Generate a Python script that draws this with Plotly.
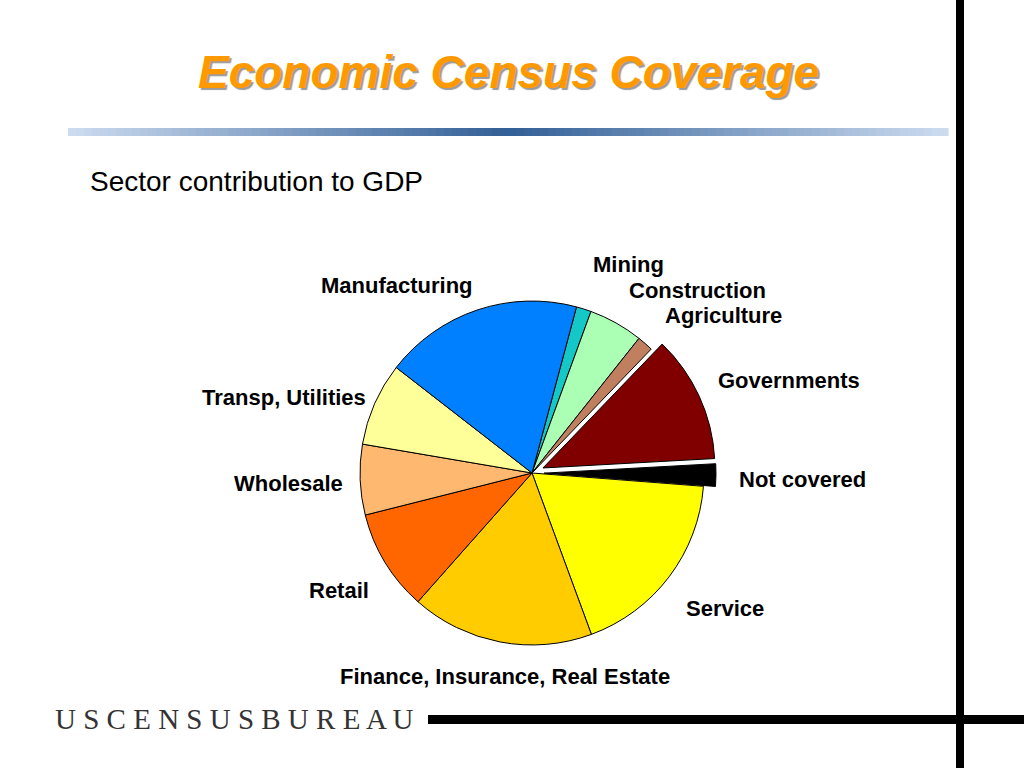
import plotly.graph_objects as go

# sector shares of GDP (percent), clockwise starting at Mining
sectors = ["Mining", "Construction", "Agriculture", "Governments", "Not covered",
           "Service", "Finance, Insurance, Real Estate", "Retail", "Wholesale",
           "Transp, Utilities", "Manufacturing"]
shares = [1.4, 5.1, 1.5, 11.9, 2.1, 18.1, 17.1, 9.5, 6.6, 7.8, 18.6]
colors = ["#14C8C8", "#AAFFB4", "#C08060", "#800000", "#000000",
          "#FFFF00", "#FFCC00", "#FF6600", "#FFB870", "#FFFF99", "#0080FF"]
pulls = [0, 0, 0, 0.07, 0.07, 0, 0, 0, 0, 0, 0]

W, H = 1024, 768

# label centres in pixels
label_pos = {
    "Mining": (628, 264),
    "Construction": (697, 290),
    "Agriculture": (723, 316),
    "Governments": (789, 380),
    "Not covered": (802, 479),
    "Service": (725, 608),
    "Finance, Insurance, Real Estate": (505, 676),
    "Retail": (339, 590),
    "Wholesale": (288, 483),
    "Transp, Utilities": (284, 397),
    "Manufacturing": (397, 285),
}


def px(x, y):
    return x / W, 1 - y / H


cx, cy, half = 532, 473, 184

fig = go.Figure(go.Pie(
    labels=sectors,
    values=shares,
    sort=False,
    direction="clockwise",
    rotation=15,
    pull=pulls,
    marker=dict(colors=colors, line=dict(color="black", width=1)),
    textinfo="none",
    hoverinfo="label+percent",
    domain=dict(x=[(cx - half) / W, (cx + half) / W],
                y=[(H - cy - half) / H, (H - cy + half) / H]),
))

label_font = dict(family="Liberation Sans Narrow, Arial Narrow, Liberation Sans, sans-serif",
                  size=22, color="black", weight="bold")
annotations = []
for name in sectors:
    x, y = px(*label_pos[name])
    annotations.append(dict(x=x, y=y, xref="paper", yref="paper", text=name,
                            showarrow=False, xanchor="center", yanchor="middle",
                            font=label_font))

# title and subtitle
annotations.append(dict(
    x=px(508, 72)[0], y=px(508, 72)[1], xref="paper", yref="paper",
    text="<b><i>Economic Census Coverage</i></b>", showarrow=False,
    xanchor="center", yanchor="middle",
    font=dict(family="Liberation Sans, Arial, sans-serif", size=46, color="#FF9900",
              shadow="2px 2px 1px #9a9a9a")))
annotations.append(dict(
    x=px(88, 181)[0], y=px(88, 181)[1], xref="paper", yref="paper",
    text="Sector contribution to GDP", showarrow=False,
    xanchor="left", yanchor="middle",
    font=dict(family="Liberation Sans, Arial, sans-serif", size=28, color="black")))
annotations.append(dict(
    x=px(53, 719)[0], y=px(53, 719)[1], xref="paper", yref="paper",
    text=" ".join("USCENSUSBUREAU"), showarrow=False,
    xanchor="left", yanchor="middle",
    font=dict(family="Liberation Serif, Times New Roman, serif", size=29, color="#333333")))

# gradient rule under the title
shapes = []
x0, x1, n = 68, 948, 110
edge, mid = (205, 220, 240), (50, 95, 150)
step = (x1 - x0) / n
for i in range(n):
    t = abs((i + 0.5) / n - 0.5) * 2
    c = tuple(round(mid[k] + (edge[k] - mid[k]) * t) for k in range(3))
    shapes.append(dict(type="rect", xref="paper", yref="paper",
                       x0=(x0 + i * step) / W, x1=(x0 + (i + 1) * step + 0.6) / W,
                       y0=1 - 136 / H, y1=1 - 128 / H,
                       fillcolor="rgb(%d,%d,%d)" % c, line=dict(width=0), layer="below"))

# black frame lines
shapes.append(dict(type="rect", xref="paper", yref="paper",
                   x0=956 / W, x1=964 / W, y0=0, y1=1,
                   fillcolor="black", line=dict(width=0)))
shapes.append(dict(type="rect", xref="paper", yref="paper",
                   x0=428 / W, x1=1, y0=1 - 724 / H, y1=1 - 715 / H,
                   fillcolor="black", line=dict(width=0)))

fig.update_layout(
    width=W, height=H,
    margin=dict(l=0, r=0, t=0, b=0),
    paper_bgcolor="white",
    plot_bgcolor="white",
    showlegend=False,
    annotations=annotations,
    shapes=shapes,
)

# drop the browser's default page margin so the figure sits at 0,0
fig.write_html("out.html", config={"displayModeBar": False},
               post_script="document.body.style.margin='0';document.body.style.overflow='hidden';")
